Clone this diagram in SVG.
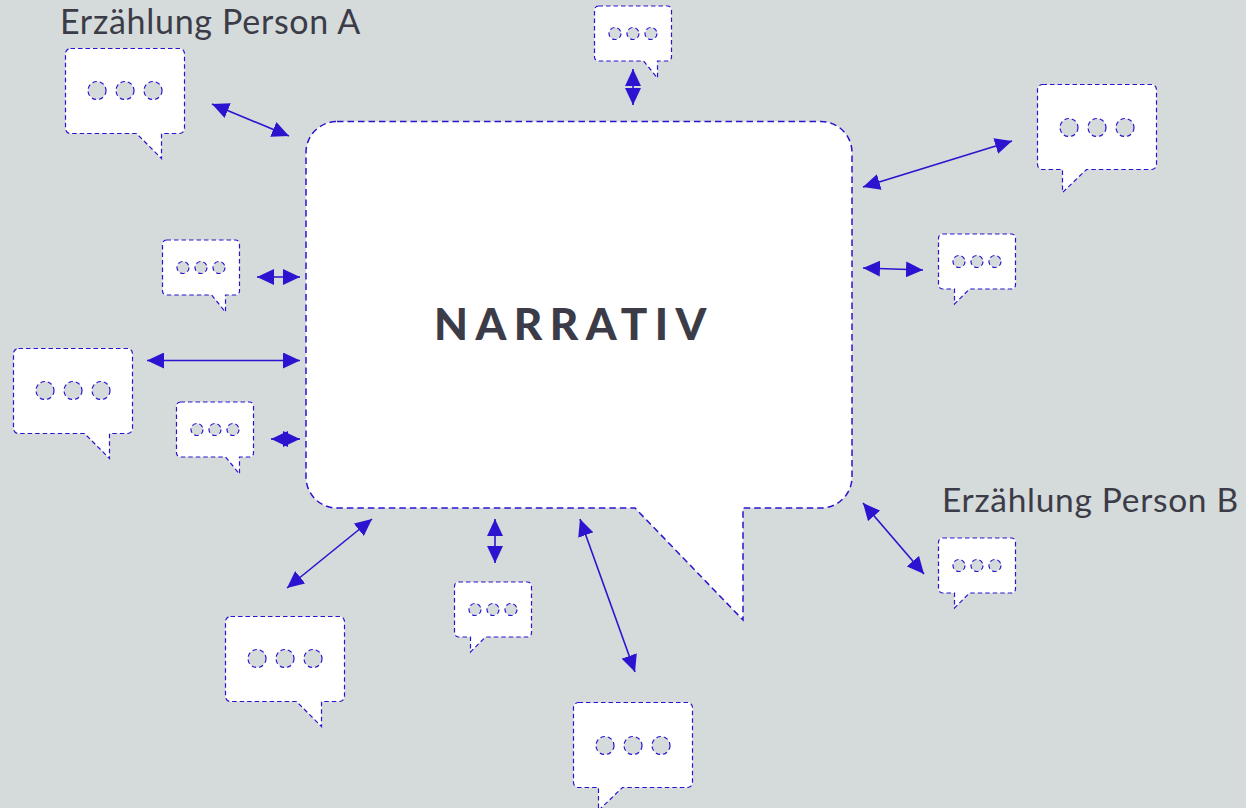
<svg xmlns="http://www.w3.org/2000/svg" width="1246" height="808" viewBox="0 0 1246 808">
<style>
.b{fill:#fff;stroke:#2a14cf;stroke-width:1.2;stroke-dasharray:4.500 3}
.m{fill:#fff;stroke:#2a14cf;stroke-width:1.500;stroke-dasharray:6.500 4}
.d{fill:#d5dadb;stroke:#2a14cf;stroke-width:1.200;stroke-dasharray:4.500 3}
.a{stroke:#2a14cf;stroke-width:1.600;fill:none;marker-start:url(#h);marker-end:url(#h)}
.t{font-family:"Lato","Noto Sans",sans-serif;fill:#3b3c47}
</style>
<defs>
<marker id="h" markerUnits="userSpaceOnUse" markerWidth="18" markerHeight="16" refX="17" refY="8" orient="auto-start-reverse"><path d="M0 0L17 8L0 16Z" fill="#2a14cf"/></marker>
<g id="lr"><path class="b" d="M5 0H114a5 5 0 0 1 5 5V80a5 5 0 0 1-5 5H96V110L71 85H5a5 5 0 0 1-5-5V5a5 5 0 0 1 5-5Z"/><circle class="d" cx="31.500" cy="42" r="9"/><circle class="d" cx="59.500" cy="42" r="9"/><circle class="d" cx="87.500" cy="42" r="9"/></g>
<g id="ll"><path class="b" d="M5 0H114a5 5 0 0 1 5 5V80a5 5 0 0 1-5 5H49L25 108V85H5a5 5 0 0 1-5-5V5a5 5 0 0 1 5-5Z"/><circle class="d" cx="31.500" cy="43" r="9"/><circle class="d" cx="59.500" cy="43" r="9"/><circle class="d" cx="87.500" cy="43" r="9"/></g>
<g id="sr"><path class="b" d="M4 0H73a4 4 0 0 1 4 4V51a4 4 0 0 1-4 4H63V72L49 55H4a4 4 0 0 1-4-4V4a4 4 0 0 1 4-4Z"/><circle class="d" cx="20.500" cy="27.500" r="6"/><circle class="d" cx="38.500" cy="27.500" r="6"/><circle class="d" cx="56.500" cy="27.500" r="6"/></g>
<g id="sl"><path class="b" d="M4 0H73a4 4 0 0 1 4 4V51a4 4 0 0 1-4 4H31L16 70V55H4a4 4 0 0 1-4-4V4a4 4 0 0 1 4-4Z"/><circle class="d" cx="20.500" cy="27.500" r="6"/><circle class="d" cx="38.500" cy="27.500" r="6"/><circle class="d" cx="56.500" cy="27.500" r="6"/></g>
</defs>
<rect width="1246" height="808" fill="#d5dadb"/>
<g id="narrativ">
<path class="m" d="M337 121.500H821a31 31 0 0 1 31 31V477a31 31 0 0 1-31 31H743V620L635 508H337a31 31 0 0 1-31-31V152.500a31 31 0 0 1 31-31Z"/>
<text class="t" x="434" y="340" font-size="44" font-weight="900" letter-spacing="7.400">NARRATIV</text>
</g>
<g id="person-a"><use href="#lr" x="65.500" y="48.500"/><text class="t" x="60" y="34" font-size="34" letter-spacing="0.700">Erzählung Person A</text></g>
<g id="person-b"><use href="#sl" x="938.500" y="538"/><text class="t" x="942" y="512" font-size="33.500" letter-spacing="0.700">Erzählung Person B</text></g>
<g id="bubble-top"><use href="#sr" x="594.500" y="6"/></g>
<g id="bubble-right-1"><use href="#ll" x="1037.500" y="84.500"/></g>
<g id="bubble-right-2"><use href="#sl" x="938.500" y="234"/></g>
<g id="bubble-left-1"><use href="#sr" x="162.500" y="240"/></g>
<g id="bubble-left-2"><use href="#lr" x="13.500" y="348.500"/></g>
<g id="bubble-left-3"><use href="#sr" x="176.500" y="402"/></g>
<g id="bubble-bottom-1"><use href="#lr" x="225.500" y="616.500"/></g>
<g id="bubble-bottom-2"><use href="#sl" x="454.500" y="582"/></g>
<g id="bubble-bottom-3"><use href="#ll" x="573.500" y="702.500"/></g>
<g id="connectors">
<line class="a" x1="212" y1="104" x2="289" y2="136"/>
<line class="a" x1="633" y1="69" x2="633" y2="105"/>
<line class="a" x1="863" y1="187" x2="1012" y2="141"/>
<line class="a" x1="863" y1="268" x2="923" y2="270"/>
<line class="a" x1="257" y1="277" x2="300" y2="277"/>
<line class="a" x1="147" y1="360.500" x2="300" y2="360.500"/>
<line class="a" x1="271" y1="439" x2="300" y2="439"/>
<line class="a" x1="372" y1="519" x2="287" y2="588"/>
<line class="a" x1="495" y1="519" x2="495" y2="563"/>
<line class="a" x1="580" y1="519" x2="635" y2="672"/>
<line class="a" x1="863" y1="503" x2="924" y2="574"/>
</g>
</svg>
